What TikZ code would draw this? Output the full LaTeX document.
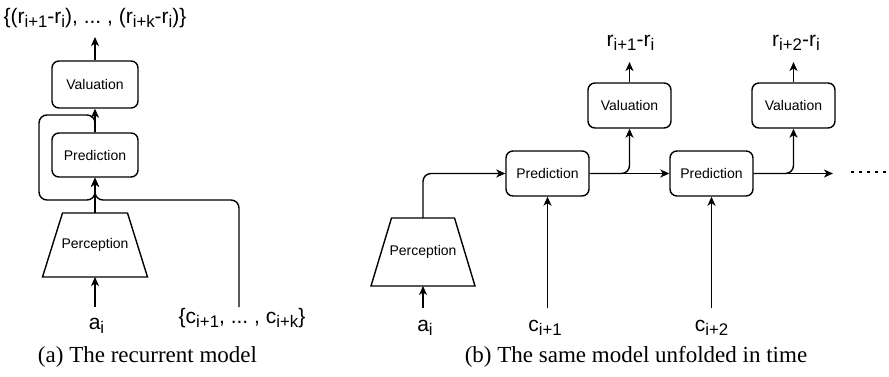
\documentclass[tikz,border=0pt]{standalone}
\usepackage{fontspec}
\setmainfont{Liberation Serif}
\setsansfont{Liberation Sans}
\usetikzlibrary{arrows.meta}
\newcommand\sbs[1]{\raisebox{-4pt}{\fontsize{16.8}{17}\selectfont #1}}
\frenchspacing
\begin{document}
\begin{tikzpicture}[x=1pt,y=-1pt,
  box/.style={draw, rounded corners=7pt, line width=1.4pt, inner sep=0pt,
    font=\sffamily\fontsize{14}{16}\selectfont},
  perctxt/.style={inner sep=0pt, outer sep=0pt, font=\sffamily\fontsize{14}{16}\selectfont},
  percline/.style={line width=1.4pt, line join=miter},
  arr/.style={-{Stealth[length=9pt,width=8pt,inset=2.5pt]}, line width=1.4pt},
  ln/.style={line width=1.4pt, rounded corners=8pt},
  lab/.style={font=\sffamily\fontsize{21}{24}\selectfont, anchor=base, inner sep=0pt},
  captxt/.style={font=\rmfamily\fontsize{23}{26}\selectfont, anchor=base, inner sep=0pt}]
\useasboundingbox (0,0) rectangle (889,377);

% ---------- (a) recurrent model ----------
\node[box, minimum width=86pt, minimum height=47pt] (val1) at (95,84.5) {Valuation};
\node[box, minimum width=86pt, minimum height=44pt] (pred1) at (95,155) {Prediction};
\node[perctxt, minimum width=65pt, minimum height=64pt] (perc1) at (95,245) {Perception};
\draw[percline] (62.5,213) -- (127.5,213) -- (147.5,277) -- (42.5,277) -- cycle;

\coordinate (o1) at (95,37);
\coordinate (lt) at (95,115);
\coordinate (ll) at (39,115);
\coordinate (lb) at (39,200);
\coordinate (jn) at (95,200);
\coordinate (jn2) at (95,188);
\coordinate (cs1) at (239,307);
\coordinate (cc1) at (239,200);
\coordinate (ai1) at (95,307);

\draw[ln] (pred1.north) -- (lt) -- (ll) -- (lb) -- (jn) -- (jn2);
\draw[arr, rounded corners=8pt] (cs1) -- (cc1) -- (jn) -- (pred1.south);
\draw[arr] (perc1.north) -- (pred1.south);
\draw[arr] (pred1.north) -- (val1.south);
\draw[arr] (val1.north) -- (o1);
\draw[arr] (ai1) -- (perc1.south);

\node[lab] (rset) at (95,24) {\{(r\sbs{i+1}-r\sbs{i}), ... , (r\sbs{i+k}-r\sbs{i})\}};
\node[lab] (ai1l) at (96.5,329) {a\sbs{i}};
\node[lab] (cset) at (242,323) {\{c\sbs{i+1}, ... , c\sbs{i+k}\}};
\node[captxt] (capa) at (147.5,362) {(a) The recurrent model};

% ---------- (b) unfolded ----------
\node[perctxt, minimum width=63pt, minimum height=68pt] (perc2) at (423,252) {Perception};
\draw[percline] (391.5,218) -- (454.5,218) -- (475,286) -- (371,286) -- cycle;
\node[box, minimum width=83pt, minimum height=45pt] (pred2a) at (547.5,173.5) {Prediction};
\node[box, minimum width=83pt, minimum height=45pt] (val2a) at (629.5,105.5) {Valuation};
\node[box, minimum width=83pt, minimum height=45pt] (pred2b) at (711.5,173.5) {Prediction};
\node[box, minimum width=83pt, minimum height=45pt] (val2b) at (793.5,105.5) {Valuation};

\coordinate (o2a) at (629.5,62);
\coordinate (o2b) at (793.5,62);
\coordinate (endp) at (833,173.5);
\coordinate (ai2) at (423,308);
\coordinate (c2a) at (547.5,308);
\coordinate (c2b) at (711.5,308);
\coordinate (d1) at (851,172);
\coordinate (d2) at (889,172);

\draw[arr, rounded corners=8pt] (perc2.north) |- (pred2a.west);
\draw[arr] (pred2a.east) -- (pred2b.west);
\draw[arr, rounded corners=8pt] (pred2a.east) -| (val2a.south);
\draw[arr] (pred2b.east) -- (endp);
\draw[arr, rounded corners=8pt] (pred2b.east) -| (val2b.south);
\draw[arr] (val2a.north) -- (o2a);
\draw[arr] (val2b.north) -- (o2b);
\draw[arr] (ai2) -- (perc2.south);
\draw[arr] (c2a) -- (pred2a.south);
\draw[arr] (c2b) -- (pred2b.south);
\draw[line width=2.6pt, dash pattern=on 2.6pt off 5.4pt] (d1) -- (d2);

\node[lab] (r2a) at (630.5,47) {r\sbs{i+1}-r\sbs{i}};
\node[lab] (r2b) at (796,47) {r\sbs{i+2}-r\sbs{i}};
\node[lab] (ai2l) at (425,331) {a\sbs{i}};
\node[lab] (c2al) at (545,331) {c\sbs{i+1}};
\node[lab] (c2bl) at (711.5,331) {c\sbs{i+2}};
\node[captxt] (capb) at (636,362) {(b) The same model unfolded in time};
\end{tikzpicture}
\end{document}
